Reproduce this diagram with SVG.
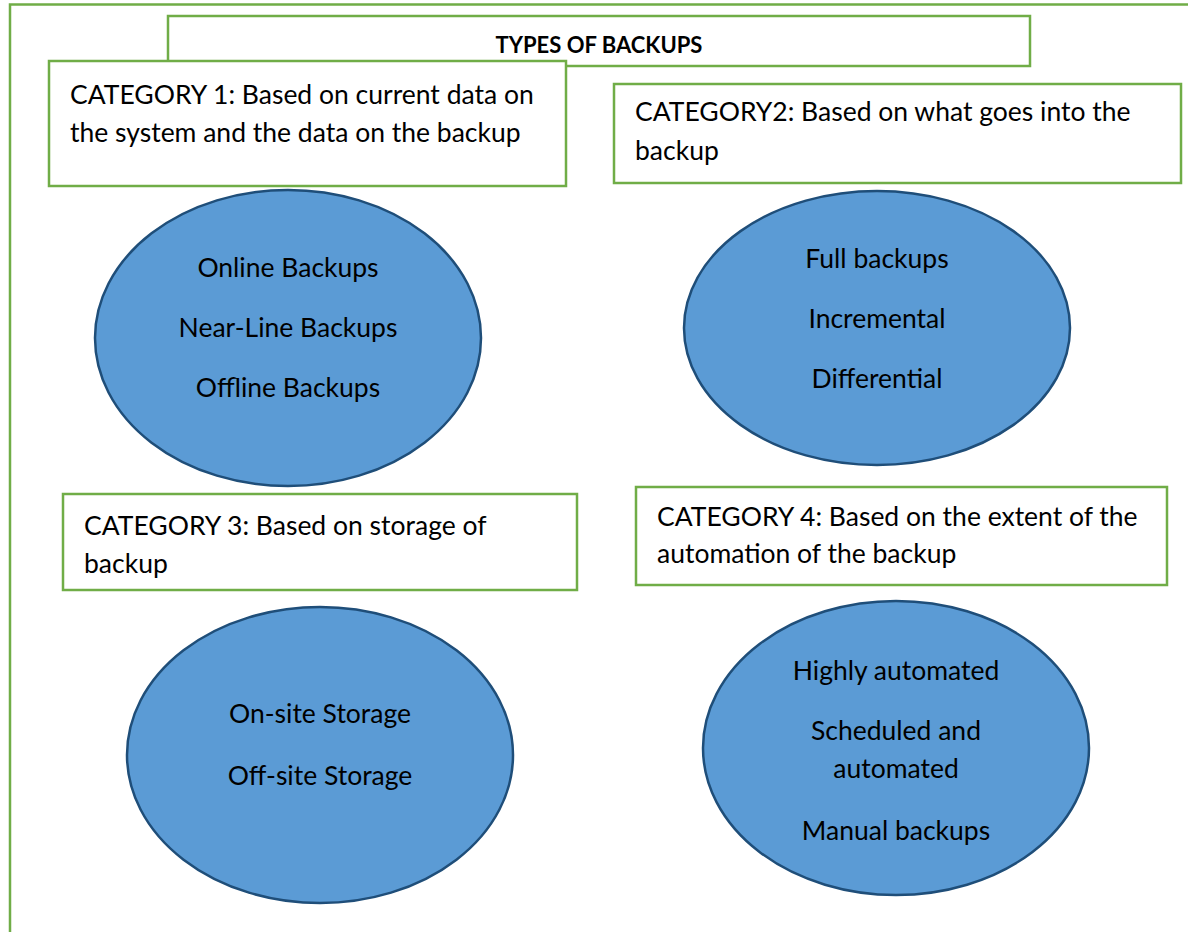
<svg xmlns="http://www.w3.org/2000/svg" width="1188" height="932" viewBox="0 0 1188 932">
<style>
.box{fill:#fff;stroke:#70AD47;stroke-width:2.5}
.ell{fill:#5B9BD5;stroke:#1F4E79;stroke-width:2.5}
.t{font-family:Lato,"Open Sans","Liberation Sans",sans-serif;font-size:26.5px;fill:#000}
.c{text-anchor:middle}
.title{font-family:Lato,"Open Sans","Liberation Sans",sans-serif;font-size:22px;font-weight:bold;text-anchor:middle}
</style>
<rect width="1188" height="932" fill="#fff"/>
<g id="frame"><path d="M10,934 V4.5 H1192" fill="none" stroke="#70AD47" stroke-width="2.5"/></g>
<g id="title"><rect class="box" x="168" y="16" width="862" height="50"/><text class="title" x="599" y="53">TYPES OF BACKUPS</text></g>
<g id="cat1"><rect class="box" x="49" y="61" width="517" height="125"/>
<text class="t" x="70" y="104">CATEGORY 1: Based on current data on</text>
<text class="t" x="70" y="142">the system and the data on the backup</text></g>
<g id="cat2"><rect class="box" x="614" y="84" width="567" height="99"/>
<text class="t" x="635" y="121">CATEGORY2: Based on what goes into the</text>
<text class="t" x="635" y="160">backup</text></g>
<g id="ell1"><ellipse class="ell" cx="288" cy="338" rx="193" ry="148"/>
<text class="t c" x="288" y="277">Online Backups</text>
<text class="t c" x="288" y="337">Near-Line Backups</text>
<text class="t c" x="288" y="397">Offline Backups</text></g>
<g id="ell2"><ellipse class="ell" cx="877" cy="328" rx="193" ry="137"/>
<text class="t c" x="877" y="268">Full backups</text>
<text class="t c" x="877" y="328">Incremental</text>
<text class="t c" x="877" y="388">Differential</text></g>
<g id="cat3"><rect class="box" x="63" y="494" width="514" height="96"/>
<text class="t" x="84" y="535">CATEGORY 3: Based on storage of</text>
<text class="t" x="84" y="573">backup</text></g>
<g id="cat4"><rect class="box" x="636" y="487" width="531" height="98"/>
<text class="t" x="657" y="526">CATEGORY 4: Based on the extent of the</text>
<text class="t" x="657" y="563">automation of the backup</text></g>
<g id="ell3"><ellipse class="ell" cx="320" cy="755" rx="193" ry="148"/>
<text class="t c" x="320" y="723">On-site Storage</text>
<text class="t c" x="320" y="785">Off-site Storage</text></g>
<g id="ell4"><ellipse class="ell" cx="896" cy="748" rx="193" ry="147"/>
<text class="t c" x="896" y="680">Highly automated</text>
<text class="t c" x="896" y="740">Scheduled and</text>
<text class="t c" x="896" y="778">automated</text>
<text class="t c" x="896" y="840">Manual backups</text></g>
<g id="connectors"></g>
</svg>
